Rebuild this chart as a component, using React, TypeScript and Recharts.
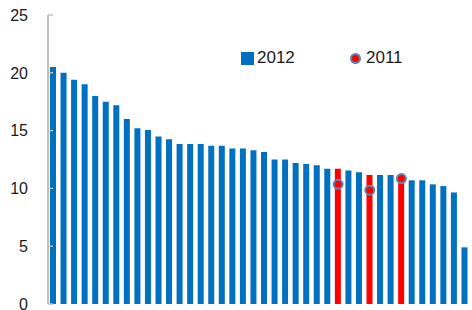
import React from "react";
import { ComposedChart, Bar, Line, XAxis, YAxis, Cell } from "recharts";

const categories = [
  "C01", "C02", "C03", "C04", "C05", "C06", "C07", "C08", "C09", "C10",
  "C11", "C12", "C13", "C14", "C15", "C16", "C17", "C18", "C19", "C20",
  "C21", "C22", "C23", "C24", "C25", "C26", "C27", "C28", "C29", "C30",
  "C31", "C32", "C33", "C34", "C35", "C36", "C37", "C38", "C39", "C40",
];

const values2012 = [
  20.5, 20.0, 19.4, 19.0, 18.0, 17.5, 17.2, 16.0, 15.2, 15.05,
  14.5, 14.25, 13.85, 13.85, 13.85, 13.7, 13.7, 13.45, 13.45, 13.3,
  13.15, 12.5, 12.5, 12.2, 12.1, 12.0, 11.7, 11.7, 11.55, 11.4,
  11.15, 11.15, 11.15, 10.85, 10.7, 10.7, 10.35, 10.2, 9.65, 4.9,
];

const highlighted = ["C28", "C31", "C34"];
const values2011: Record<string, number> = { C28: 10.35, C31: 9.85, C34: 10.85 };

const yTicks = [0, 5, 10, 15, 20, 25];
const seriesNames = ["2012", "2011"];

const BLUE = "#0070C0";
const RED = "#FF0000";
const DOT_STROKE = "#5B86B8";
const AXIS = "#BFBFBF";

const data = categories.map((c, i) => ({
  name: c,
  v2012: values2012[i],
  v2011: values2011[c] ?? null,
}));

const FONT = "'Liberation Sans', Arial, sans-serif";

const YTick = (props: any) => {
  const { x, y, payload } = props;
  return (
    <g>
      <line x1={x + 20} x2={x + 25} y1={y} y2={y} stroke={AXIS} strokeWidth={1.5} />
      <text x={x} y={y} dy="0.36em" textAnchor="end" fontSize={16} fill="#1a1a1a" fontFamily={FONT}>
        {payload.value}
      </text>
    </g>
  );
};

export default function App() {
  return (
    <div style={{ position: "fixed", left: 0, top: 0, width: 472, height: 310, background: "#fff" }}>
      <ComposedChart
        width={472}
        height={310}
        data={data}
        margin={{ top: 15, right: 2, bottom: 6, left: 0 }}
        barCategoryGap="45%"
      >
        <XAxis dataKey="name" tick={false} tickLine={false} height={0} axisLine={{ stroke: AXIS, strokeWidth: 2 }} />
        <XAxis xAxisId="top" dataKey="name" orientation="top" tick={false} tickLine={false} height={0} axisLine={{ stroke: "#D0D0D0", strokeWidth: 1.5 }} />
        <YAxis
          domain={[0, 25]}
          ticks={yTicks}
          width={48}
          tickSize={0}
          tickMargin={20}
          tickLine={false}
          tick={<YTick />}
          axisLine={{ stroke: AXIS, strokeWidth: 2 }}
          interval={0}
        />
        <YAxis yAxisId="right" orientation="right" width={0} tick={false} tickLine={false} axisLine={{ stroke: "#D0D0D0", strokeWidth: 1.5 }} />
        <Bar dataKey="v2012" name={seriesNames[0]} isAnimationActive={false} barSize={6}>
          {data.map((d) => (
            <Cell key={d.name} fill={highlighted.includes(d.name) ? RED : BLUE} />
          ))}
        </Bar>
        <Line
          dataKey="v2011"
          name={seriesNames[1]}
          stroke="none"
          isAnimationActive={false}
          dot={{ r: 4.5, fill: RED, stroke: DOT_STROKE, strokeWidth: 2 }}
          activeDot={false}
        />
      </ComposedChart>
      <div style={{ position: "absolute", left: 241, top: 48, display: "flex", alignItems: "center", fontFamily: FONT, fontSize: 17, color: "#1a1a1a" }}>
        <span style={{ display: "inline-block", width: 13, height: 13, background: BLUE, marginRight: 3 }} />
        <span>{seriesNames[0]}</span>
      </div>
      <div style={{ position: "absolute", left: 349, top: 48, display: "flex", alignItems: "center", fontFamily: FONT, fontSize: 17, color: "#1a1a1a" }}>
        <svg width={13} height={13} style={{ marginRight: 4 }}>
          <circle cx={6.5} cy={6.5} r={4.5} fill={RED} stroke={DOT_STROKE} strokeWidth={2} />
        </svg>
        <span>{seriesNames[1]}</span>
      </div>
    </div>
  );
}
